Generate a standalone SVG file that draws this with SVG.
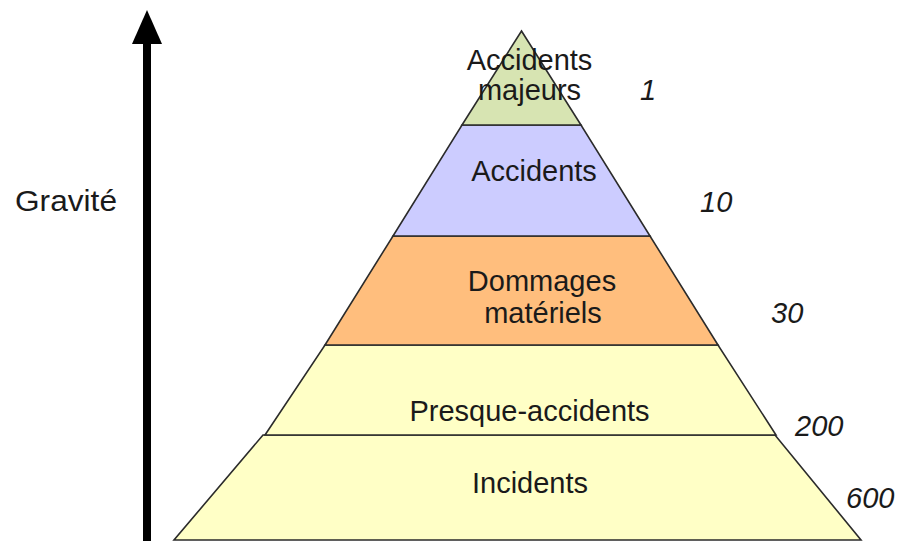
<svg xmlns="http://www.w3.org/2000/svg" width="901" height="541" viewBox="0 0 901 541">
<style>
.tier{stroke:#2b2b2b;stroke-width:1.6;stroke-linejoin:miter}
.lbl{font-family:"Liberation Sans",Arial,sans-serif;font-size:29px;fill:#1a1a1a;text-anchor:middle}
.num{font-family:"Liberation Sans",Arial,sans-serif;font-size:29px;font-style:italic;fill:#1a1a1a}
</style>
<rect width="901" height="541" fill="#ffffff"/>
<g id="axis">
<rect x="143" y="42" width="8" height="500" fill="#000"/>
<polygon points="147,10 162,44 132,44" fill="#000"/>
<text x="15" y="211" class="num" style="font-style:normal" textLength="102" lengthAdjust="spacingAndGlyphs">Gravité</text>
</g>
<g id="incidents">
<polygon class="tier" points="263,435 775,435 861,540 174,540" fill="#ffffc6"/>
<text x="530" y="493" class="lbl">Incidents</text>
<text x="846" y="508" class="num">600</text>
</g>
<g id="presque-accidents">
<polygon class="tier" points="325,345 718,345 776,435 265,435" fill="#ffffc6"/>
<text x="529.5" y="421" class="lbl">Presque-accidents</text>
<text x="795" y="436" class="num">200</text>
</g>
<g id="dommages">
<polygon class="tier" points="393,236 650,236 718,345 325,345" fill="#ffbe7d"/>
<text x="542" y="291" class="lbl">Dommages</text>
<text x="543" y="323" class="lbl">matériels</text>
<text x="771" y="323" class="num">30</text>
</g>
<g id="accidents">
<polygon class="tier" points="462,125 581,125 650,236 393,236" fill="#ccccff"/>
<text x="534" y="181" class="lbl">Accidents</text>
<text x="700" y="212" class="num">10</text>
</g>
<g id="accidents-majeurs">
<polygon class="tier" points="521.5,31 581,125 462,125" fill="#d7e4b2"/>
<text x="529.5" y="70" class="lbl">Accidents</text>
<text x="529.5" y="100" class="lbl">majeurs</text>
<text x="640" y="100" class="num">1</text>
</g>
</svg>
